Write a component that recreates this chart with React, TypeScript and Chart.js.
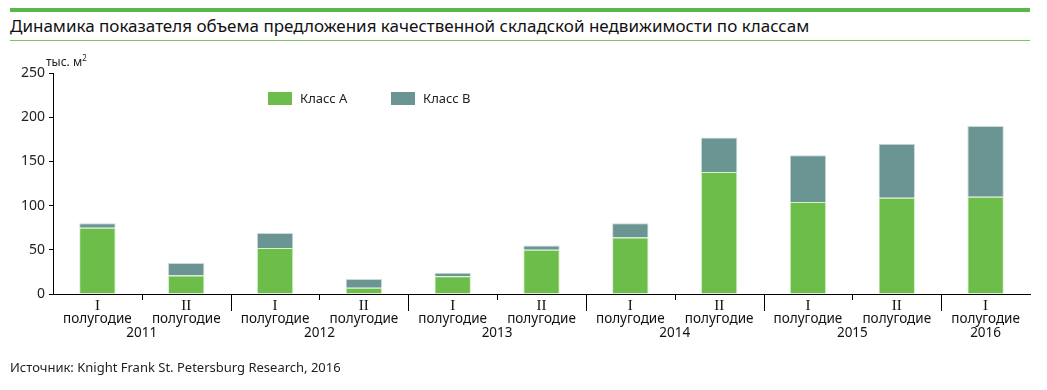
import React, { useEffect, useRef } from "react";
import { Chart, registerables } from "chart.js";

Chart.register(...registerables);

const halfLabels = ["I", "II", "I", "II", "I", "II", "I", "II", "I", "II", "I"];
const yearLabels = ["2011", "2011", "2012", "2012", "2013", "2013", "2014", "2014", "2015", "2015", "2016"];
const classA = [75, 21, 52, 7, 20, 50, 64, 138, 104, 109, 110];
const classB = [5, 14, 17, 10, 4, 5, 16, 39, 53, 61, 80];
const yTicks = [0, 50, 100, 150, 200, 250];

const GREEN = "#6cbd4a";
const TEAL = "#6a9592";
const SANS = "'Noto Sans', 'Open Sans', sans-serif";

const xLabelsPlugin = {
  id: "xLabels",
  afterDraw(chart: any) {
    const ctx = chart.ctx;
    const x = chart.scales.x;
    const area = chart.chartArea;
    const y0 = area.bottom;
    ctx.save();
    // ticks between categories
    ctx.strokeStyle = "#000";
    ctx.lineWidth = 1;
    for (let i = 0; i < halfLabels.length - 1; i++) {
      const px = Math.round((x.getPixelForValue(i) + x.getPixelForValue(i + 1)) / 2) + 0.5;
      const yearBoundary = yearLabels[i] !== yearLabels[i + 1];
      ctx.beginPath();
      ctx.moveTo(px, y0);
      ctx.lineTo(px, y0 + (yearBoundary ? 17 : 6));
      ctx.stroke();
    }
    ctx.fillStyle = "#111";
    ctx.textAlign = "center";
    ctx.textBaseline = "middle";
    for (let i = 0; i < halfLabels.length; i++) {
      const px = x.getPixelForValue(i);
      ctx.font = "15px 'Liberation Serif', serif";
      ctx.fillText(halfLabels[i], px, y0 + 12);
      ctx.font = "13.5px " + SANS;
      ctx.fillText("полугодие", px, y0 + 25);
    }
    // years
    const groups: { year: string; first: number; last: number }[] = [];
    yearLabels.forEach((yr, i) => {
      const g = groups[groups.length - 1];
      if (g && g.year === yr) g.last = i;
      else groups.push({ year: yr, first: i, last: i });
    });
    ctx.font = "13.5px " + SANS;
    groups.forEach((g) => {
      const px = (x.getPixelForValue(g.first) + x.getPixelForValue(g.last)) / 2;
      ctx.fillText(g.year, px, y0 + 39);
    });
    ctx.restore();
  },
};

function App() {
  const ref = useRef<HTMLCanvasElement>(null);
  useEffect(() => {
    document.body.style.margin = "0";
    const chart = new Chart(ref.current!, {
      type: "bar",
      data: {
        labels: halfLabels.map((h, i) => h + " " + yearLabels[i]),
        datasets: [
          {
            label: "Класс А",
            data: classA,
            backgroundColor: GREEN,
            borderColor: "#d8efd0",
            borderWidth: 1,
            categoryPercentage: 1,
            barPercentage: 0.41,
          },
          {
            label: "Класс В",
            data: classB,
            backgroundColor: TEAL,
            borderColor: "#c9dbd9",
            borderWidth: 1,
            categoryPercentage: 1,
            barPercentage: 0.41,
          },
        ],
      },
      options: {
        animation: false,
        responsive: false,
        maintainAspectRatio: false,
        layout: { padding: { top: 73, right: 17, left: 0, bottom: 0 } },
        plugins: { legend: { display: false }, tooltip: { enabled: false } },
        scales: {
          x: {
            stacked: true,
            afterFit: (s: any) => {
              s.height = 96;
            },
            grid: { display: false, drawTicks: false },
            border: { display: true, color: "#000", width: 1 },
            ticks: { display: false },
          },
          y: {
            stacked: true,
            min: 0,
            max: 250,
            afterFit: (s: any) => {
              s.width = 53;
            },
            afterBuildTicks: (s: any) => {
              s.ticks = yTicks.map((v) => ({ value: v }));
            },
            grid: { drawOnChartArea: false, drawTicks: true, tickLength: 4, color: "#000" },
            border: { display: true, color: "#000", width: 1 },
            ticks: {
              color: "#222",
              font: { family: "'Noto Sans', sans-serif", size: 14 },
              padding: 4,
            },
          },
        },
      },
      plugins: [xLabelsPlugin],
    });
    return () => chart.destroy();
  }, []);

  const sq = (c: string) => ({
    position: "absolute" as const,
    width: 24,
    height: 13,
    background: c,
  });

  return (
    <div style={{ position: "relative", width: 1047, height: 390, fontFamily: SANS, background: "#fff" }}>
      <div style={{ position: "absolute", left: 10, top: 8, width: 1020, height: 4, background: "#5ab847" }} />
      <div style={{ position: "absolute", left: 10, top: 14, fontSize: 17, color: "#111", whiteSpace: "nowrap" }}>
        Динамика показателя объема предложения качественной складской недвижимости по классам
      </div>
      <div style={{ position: "absolute", left: 10, top: 40, width: 1020, height: 1, background: "#7cc46a" }} />
      <canvas ref={ref} width={1047} height={390} style={{ position: "absolute", left: 0, top: 0 }} />
      <div style={{ position: "absolute", left: 46, top: 52, fontSize: 12, color: "#222", whiteSpace: "nowrap" }}>
        тыс. м<sup style={{ fontSize: 8 }}>2</sup>
      </div>
      <div style={{ ...sq(GREEN), left: 268, top: 92 }} />
      <div style={{ position: "absolute", left: 300, top: 89, fontSize: 13, color: "#222" }}>Класс А</div>
      <div style={{ ...sq(TEAL), left: 391, top: 92 }} />
      <div style={{ position: "absolute", left: 423, top: 89, fontSize: 13, color: "#222" }}>Класс В</div>
      <div style={{ position: "absolute", left: 10, top: 358, fontSize: 13, color: "#222", whiteSpace: "nowrap" }}>
        Источник: Knight Frank St. Petersburg Research, 2016
      </div>
    </div>
  );
}

export default App;
